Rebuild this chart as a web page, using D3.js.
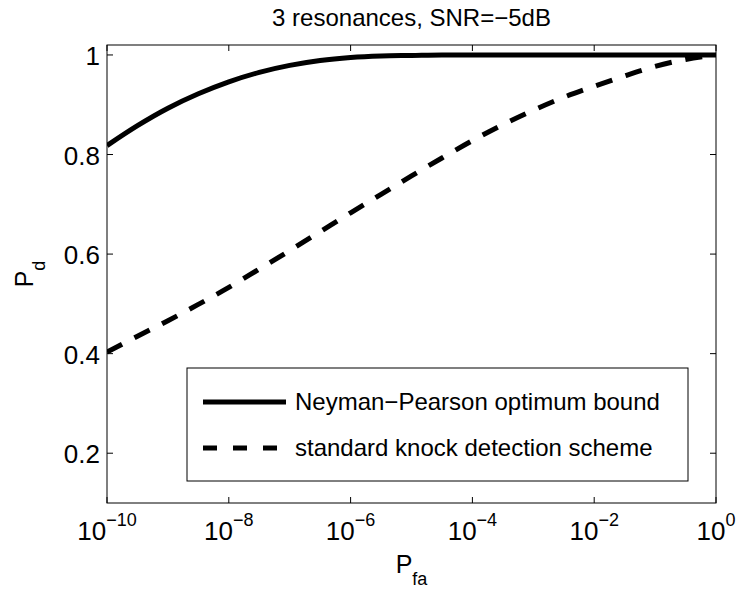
<!DOCTYPE html>
<html>
<head>
<meta charset="utf-8">
<script src="https://cdn.jsdelivr.net/npm/d3@7"></script>
<style>
  body { margin: 0; background: #fff; }
  text { font-family: "Liberation Sans", Arial, Helvetica, sans-serif; fill: #000; }
</style>
</head>
<body>
<div id="chart"></div>
<script>
const width = 736, height = 590;
const margin = { top: 45, right: 20, bottom: 87, left: 107 };

// log10 of false-alarm probability, every half decade
const pfaExp = [-10, -9.5, -9, -8.5, -8, -7.5, -7, -6.5, -6, -5.5, -5, -4.5, -4, -3.5, -3, -2.5, -2, -1.5, -1, -0.5, 0];
// Neyman-Pearson optimum bound
const pdOptimum = [0.818, 0.858, 0.893, 0.922, 0.946, 0.965, 0.979, 0.989, 0.995, 0.998, 0.999, 1.0, 1.0, 1.0, 1.0, 1.0, 1.0, 1.0, 1.0, 1.0, 1.0];
// standard knock detection scheme
const pdStandard = [0.403, 0.435, 0.466, 0.499, 0.533, 0.570, 0.607, 0.645, 0.683, 0.720, 0.757, 0.793, 0.828, 0.860, 0.889, 0.915, 0.937, 0.958, 0.977, 0.991, 1.0];

const xTickExp = [-10, -8, -6, -4, -2, 0];
const yTicks = [0.2, 0.4, 0.6, 0.8, 1];
const seriesNames = ["Neyman\u2212Pearson optimum bound", "standard knock detection scheme"];

const x = d3.scaleLog().domain([1e-10, 1]).range([margin.left, width - margin.right]);
const y = d3.scaleLinear().domain([0.1, 1.02]).range([height - margin.bottom, margin.top]);

const svg = d3.select("#chart").append("svg")
  .attr("width", width).attr("height", height);

const x0 = margin.left, x1 = width - margin.right;
const y0 = height - margin.bottom, y1 = margin.top;

svg.append("clipPath").attr("id", "clip")
  .append("rect").attr("x", x0).attr("y", y1).attr("width", x1 - x0).attr("height", y0 - y1);

// curves
const line = d3.line()
  .x(d => x(Math.pow(10, d[0])))
  .y(d => y(d[1]))
  .curve(d3.curveMonotoneX);

const plot = svg.append("g").attr("clip-path", "url(#clip)");
plot.append("path")
  .datum(pfaExp.map((e, i) => [e, pdStandard[i]]))
  .attr("d", line)
  .attr("fill", "none").attr("stroke", "#000")
  .attr("stroke-width", 5).attr("stroke-dasharray", "17,14");
plot.append("path")
  .datum(pfaExp.map((e, i) => [e, pdOptimum[i]]))
  .attr("d", line)
  .attr("fill", "none").attr("stroke", "#000")
  .attr("stroke-width", 5);

// axes box with mirrored ticks
const tickLen = 6;
const axes = svg.append("g").attr("stroke", "#000").attr("stroke-width", 1).attr("fill", "none");
axes.append("rect").attr("x", x0).attr("y", y1).attr("width", x1 - x0).attr("height", y0 - y1);
xTickExp.forEach(e => {
  const px = x(Math.pow(10, e));
  axes.append("line").attr("x1", px).attr("x2", px).attr("y1", y0).attr("y2", y0 - tickLen);
  axes.append("line").attr("x1", px).attr("x2", px).attr("y1", y1).attr("y2", y1 + tickLen);
});
yTicks.forEach(v => {
  const py = y(v);
  axes.append("line").attr("x1", x0).attr("x2", x0 + tickLen).attr("y1", py).attr("y2", py);
  axes.append("line").attr("x1", x1).attr("x2", x1 - tickLen).attr("y1", py).attr("y2", py);
});

// tick labels
xTickExp.forEach(e => {
  const t = svg.append("text")
    .attr("x", x(Math.pow(10, e))).attr("y", 540)
    .attr("text-anchor", "middle").style("font-size", "26px");
  t.append("tspan").text("10");
  t.append("tspan").attr("dy", -14).style("font-size", "18px")
    .text(e < 0 ? "\u2212" + (-e) : String(e));
});
yTicks.forEach(v => {
  svg.append("text")
    .attr("x", 100).attr("y", y(v) + 10)
    .attr("text-anchor", "end").style("font-size", "26px")
    .text(v === 1 ? "1" : d3.format(".1f")(v));
});

// title
svg.append("text")
  .attr("x", (x0 + x1) / 2).attr("y", 26)
  .attr("text-anchor", "middle").style("font-size", "24px")
  .text("3 resonances, SNR=\u22125dB");

// axis labels
const xl = svg.append("text")
  .attr("x", (x0 + x1) / 2).attr("y", 573)
  .attr("text-anchor", "middle").style("font-size", "25px");
xl.append("tspan").text("P");
xl.append("tspan").attr("dy", 12).style("font-size", "18px").text("fa");

const yl = svg.append("text")
  .attr("transform", `translate(33,${(y0 + y1) / 2}) rotate(-90)`)
  .attr("text-anchor", "middle").style("font-size", "25px");
yl.append("tspan").text("P");
yl.append("tspan").attr("dy", 12).style("font-size", "18px").text("d");

// legend
const legend = svg.append("g");
legend.append("rect")
  .attr("x", 187).attr("y", 368).attr("width", 501).attr("height", 113)
  .attr("fill", "#fff").attr("stroke", "#000").attr("stroke-width", 1);
seriesNames.forEach((name, i) => {
  const ly = 402 + i * 46;
  legend.append("line")
    .attr("x1", 203).attr("x2", 286).attr("y1", ly).attr("y2", ly)
    .attr("stroke", "#000").attr("stroke-width", 5)
    .attr("stroke-dasharray", i === 1 ? "14,16" : null);
  legend.append("text")
    .attr("x", 295).attr("y", ly + 8)
    .style("font-size", "24px")
    .text(name);
});
</script>
</body>
</html>
